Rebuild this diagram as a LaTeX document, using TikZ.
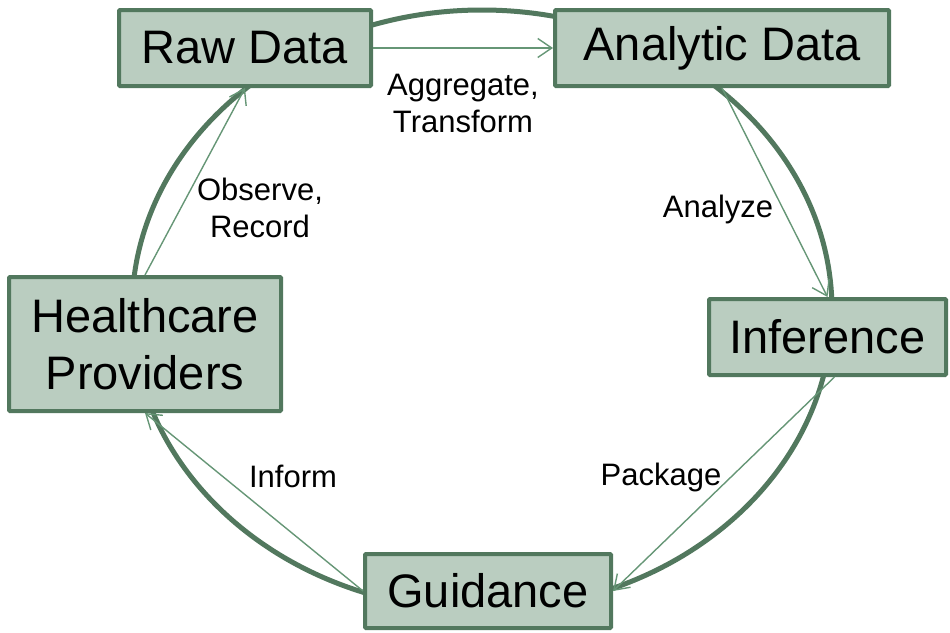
\documentclass[tikz,border=0pt]{standalone}
\usepackage{fontspec}
\setmainfont{Liberation Sans}
\usetikzlibrary{arrows.meta}
\definecolor{dkgreen}{RGB}{82,120,94}
\definecolor{ltgreen}{RGB}{186,205,192}
\definecolor{arrgreen}{RGB}{102,150,118}
\tikzset{
  box/.style={draw=dkgreen, fill=ltgreen, line width=4pt, rounded corners=1pt,
    inner sep=0pt, align=center, font=\fontsize{47}{57}\selectfont},
  lbl/.style={align=center, inner sep=0pt, font=\fontsize{31}{37}\selectfont},
  flow/.style={draw=arrgreen, line width=1.4pt,
    -{Straight Barb[length=14pt,width=19pt,line width=1.4pt]}},
}
\begin{document}
\begin{tikzpicture}[x=1pt,y=-1pt]
\useasboundingbox (0,0) rectangle (950,632);
\draw[dkgreen, line width=5pt] (482,310) ellipse [x radius=350pt, y radius=300pt];
\node[box, minimum width=252pt, minimum height=76pt] (raw) at (245,48) {Raw Data};
\node[box, minimum width=334pt, minimum height=76pt] (ana) at (722,48) {Analytic Data};
\node[box, minimum width=237pt, minimum height=76pt] (inf) at (827.5,337) {Inference};
\node[box, minimum width=272pt, minimum height=134pt] (hc) at (145,344) {Healthcare\\Providers};
\node[box, minimum width=246pt, minimum height=74pt] (gui) at (488,591) {Guidance};
\draw[flow] (raw.east) -- (ana.west);
\draw[flow] (ana.south) -- (inf.north);
\draw[flow] ([xshift=7pt]inf.south) -- (gui.east);
\draw[flow] (gui.west) -- (hc.south);
\draw[flow] (hc.north) -- (raw.south);
\node[lbl] (lagg) at (463,103) {Aggregate,\\Transform};
\node[lbl] (lana) at (718,209) {Analyze};
\node[lbl] (lobs) at (260,208) {Observe,\\Record};
\node[lbl] (linf) at (293,476) {Inform};
\node[lbl] (lpac) at (661,477) {Package};
\end{tikzpicture}
\end{document}
